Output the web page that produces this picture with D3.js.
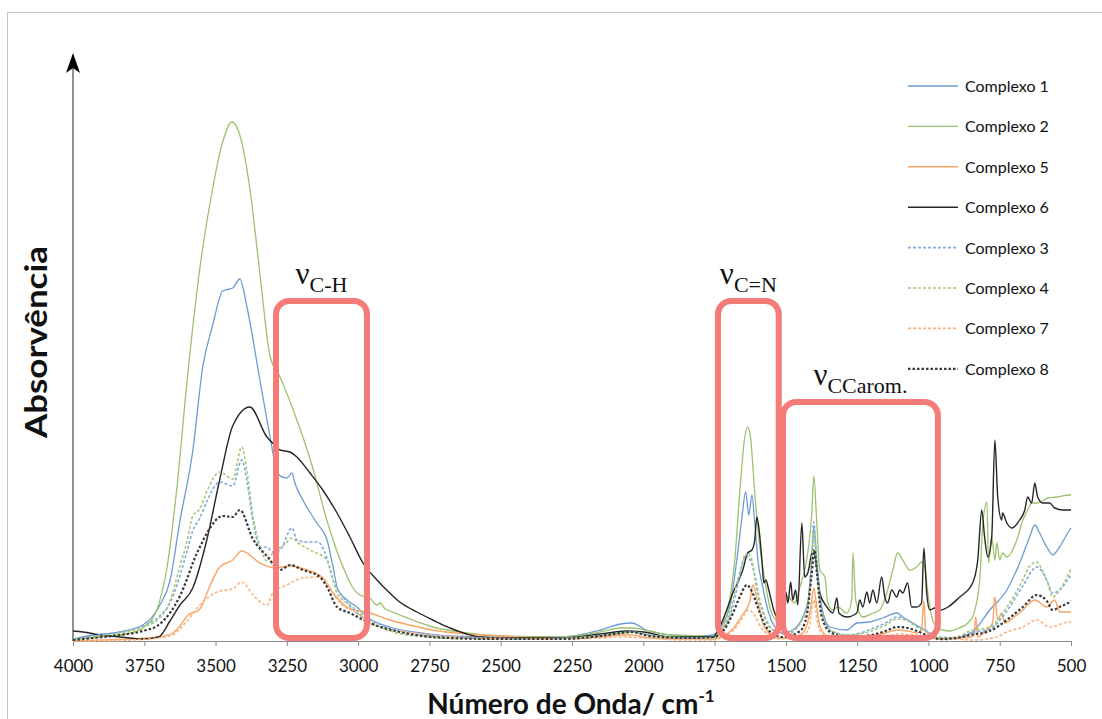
<!DOCTYPE html>
<html>
<head>
<meta charset="utf-8">
<script src="https://cdn.jsdelivr.net/npm/d3@7"></script>
<style>
  html, body { margin: 0; padding: 0; background: #fff; }
  svg { display: block; }
</style>
</head>
<body>
<svg id="chart" width="1102" height="719"></svg>
<script>
// FTIR spectra: [wavenumber (cm-1), absorbance]
const complexo1 = [[4000,.002],[3930,.006],[3835,.009],[3755,.016],[3695,.036],[3660,.060],[3625,.120],[3580,.190],[3545,.274],[3510,.316],[3475,.350],[3440,.353],[3415,.362],[3390,.334],[3344,.260],[3309,.204],[3299,.188],[3285,.168],[3250,.163],[3232,.168],[3222,.158],[3194,.141],[3145,.118],[3109,.101],[3088,.074],[3071,.051],[3039,.041],[3004,.034],[2969,.024],[2889,.014],[2780,.008],[2680,.005],[2500,.004],[2290,.004],[2150,.011],[2080,.017],[2040,.018],[1990,.011],[1900,.006],[1800,.005],[1756,.006],[1721,.018],[1697,.034],[1672,.081],[1655,.121],[1641,.149],[1630,.126],[1619,.146],[1609,.118],[1598,.081],[1581,.054],[1563,.031],[1539,.014],[1514,.008],[1476,.011],[1427,.034],[1409,.081],[1402,.114],[1392,.081],[1374,.034],[1346,.014],[1286,.011],[1251,.018],[1206,.019],[1160,.023],[1111,.028],[1090,.024],[1055,.018],[1013,.011],[960,.002],[901,.003],[845,.009],[785,.031],[725,.051],[680,.078],[645,.104],[627,.116],[610,.108],[585,.094],[564,.086],[540,.094],[505,.111],[500,.113]];

const complexo2 = [[4000,.002],[3900,.004],[3800,.008],[3750,.014],[3705,.032],[3670,.074],[3635,.155],[3600,.260],[3555,.373],[3510,.453],[3475,.499],[3443,.519],[3415,.506],[3380,.453],[3344,.366],[3309,.285],[3274,.264],[3229,.232],[3159,.173],[3109,.120],[3053,.074],[3018,.053],[2994,.046],[2959,.043],[2934,.036],[2924,.038],[2905,.032],[2889,.030],[2854,.026],[2800,.020],[2738,.014],[2620,.008],[2500,.005],[2300,.004],[2150,.009],[2080,.013],[2037,.013],[1977,.010],[1900,.006],[1800,.005],[1756,.004],[1721,.014],[1697,.041],[1679,.081],[1662,.148],[1644,.204],[1634,.214],[1623,.201],[1609,.148],[1591,.094],[1574,.061],[1556,.034],[1532,.021],[1511,.028],[1493,.044],[1469,.038],[1451,.054],[1427,.081],[1409,.128],[1402,.165],[1392,.121],[1381,.071],[1363,.064],[1353,.038],[1335,.031],[1318,.034],[1286,.028],[1269,.041],[1265,.088],[1255,.041],[1230,.024],[1195,.028],[1171,.031],[1146,.048],[1125,.071],[1108,.088],[1090,.081],[1066,.071],[1041,.074],[1024,.079],[1013,.074],[1002,.048],[988,.024],[971,.014],[950,.011],[925,.010],[901,.012],[855,.020],[845,.024],[820,.061],[810,.114],[795,.139],[789,.078],[778,.104],[767,.081],[760,.098],[750,.081],[740,.088],[725,.084],[690,.101],[669,.121],[652,.131],[638,.138],[620,.138],[600,.140],[582,.143],[550,.144],[505,.146],[500,.146]];

const complexo5 = [[4000,.000],[3900,.001],[3800,.002],[3700,.004],[3650,.008],[3625,.015],[3600,.025],[3555,.032],[3520,.055],[3485,.074],[3440,.081],[3408,.090],[3344,.078],[3290,.073],[3239,.075],[3180,.071],[3127,.064],[3088,.048],[3039,.034],[2959,.028],[2889,.021],[2820,.016],[2740,.011],[2620,.007],[2500,.005],[2300,.003],[2150,.004],[2080,.006],[2040,.006],[1980,.003],[1850,.002],[1756,.002],[1720,.005],[1686,.012],[1655,.025],[1626,.040],[1616,.056],[1598,.038],[1581,.018],[1560,.008],[1530,.003],[1500,.003],[1450,.006],[1427,.015],[1412,.035],[1402,.053],[1392,.035],[1380,.014],[1350,.004],[1300,.002],[1250,.003],[1200,.005],[1150,.008],[1110,.011],[1073,.010],[1040,.008],[1024,.012],[1016,.040],[1010,.012],[990,.004],[960,.002],[901,.003],[850,.004],[840,.006],[834,.024],[827,.004],[800,.010],[775,.018],[767,.044],[757,.021],[743,.028],[732,.018],[700,.024],[669,.031],[627,.041],[585,.034],[557,.041],[540,.029],[505,.029],[500,.029]];

const complexo6 = [[4000,.010],[3965,.009],[3905,.006],[3835,.004],[3755,.002],[3700,.004],[3660,.020],[3625,.036],[3580,.053],[3530,.102],[3485,.162],[3440,.215],[3380,.234],[3320,.204],[3285,.194],[3274,.191],[3239,.189],[3215,.184],[3169,.168],[3124,.151],[3074,.128],[3029,.104],[2983,.078],[2934,.061],[2889,.048],[2854,.039],[2794,.029],[2738,.021],[2678,.013],[2619,.007],[2573,.004],[2500,.003],[2300,.003],[2150,.007],[2060,.010],[2000,.009],[1900,.004],[1800,.004],[1756,.004],[1721,.021],[1686,.048],[1651,.071],[1634,.088],[1619,.091],[1609,.101],[1602,.124],[1595,.114],[1584,.081],[1577,.058],[1570,.061],[1560,.051],[1539,.028],[1521,.021],[1507,.034],[1500,.049],[1493,.038],[1483,.059],[1476,.041],[1466,.051],[1458,.036],[1444,.118],[1434,.064],[1423,.068],[1409,.088],[1402,.091],[1392,.074],[1381,.048],[1356,.034],[1335,.028],[1321,.043],[1314,.028],[1286,.024],[1251,.028],[1241,.041],[1230,.034],[1216,.049],[1206,.038],[1195,.051],[1181,.038],[1164,.064],[1153,.044],[1143,.038],[1129,.051],[1111,.044],[1101,.051],[1090,.048],[1073,.058],[1059,.034],[1041,.034],[1024,.038],[1016,.093],[1006,.048],[995,.031],[978,.033],[960,.031],[890,.044],[845,.058],[827,.081],[813,.131],[803,.104],[792,.084],[778,.104],[767,.201],[757,.144],[743,.121],[740,.128],[725,.118],[708,.113],[680,.121],[662,.131],[652,.144],[638,.138],[627,.158],[617,.144],[599,.138],[575,.138],[557,.133],[529,.131],[500,.131]];

const complexo3 = [[4000,.001],[3930,.005],[3835,.009],[3755,.015],[3700,.024],[3660,.038],[3625,.065],[3600,.090],[3580,.110],[3555,.123],[3530,.140],[3485,.159],[3440,.155],[3408,.181],[3390,.160],[3369,.120],[3344,.094],[3320,.094],[3299,.089],[3274,.091],[3232,.113],[3215,.101],[3180,.099],[3141,.099],[3116,.088],[3088,.061],[3053,.044],[3004,.028],[2934,.018],[2860,.010],[2750,.005],[2600,.003],[2400,.002],[2200,.004],[2080,.008],[2040,.009],[1980,.006],[1850,.003],[1756,.003],[1697,.025],[1669,.055],[1641,.086],[1626,.082],[1609,.066],[1591,.040],[1570,.022],[1539,.010],[1497,.007],[1427,.030],[1409,.085],[1402,.119],[1392,.080],[1374,.030],[1340,.010],[1280,.006],[1200,.012],[1150,.018],[1110,.024],[1073,.021],[1040,.015],[1000,.009],[960,.004],[901,.003],[855,.008],[785,.012],[725,.030],[669,.055],[620,.074],[585,.061],[564,.048],[540,.051],[505,.064],[500,.066]];

const complexo4 = [[4000,.001],[3930,.004],[3835,.008],[3755,.014],[3700,.022],[3660,.040],[3625,.075],[3600,.100],[3580,.125],[3555,.132],[3530,.150],[3485,.169],[3440,.162],[3408,.194],[3390,.170],[3369,.125],[3344,.095],[3320,.080],[3299,.088],[3260,.096],[3232,.103],[3210,.098],[3169,.091],[3109,.081],[3074,.048],[3018,.034],[2960,.020],[2889,.010],[2800,.005],[2600,.002],[2400,.002],[2200,.004],[2080,.008],[2040,.009],[1980,.006],[1850,.003],[1756,.003],[1697,.028],[1669,.061],[1644,.084],[1634,.088],[1619,.081],[1602,.051],[1581,.028],[1546,.011],[1497,.008],[1427,.031],[1409,.081],[1402,.110],[1392,.075],[1374,.030],[1340,.010],[1280,.006],[1200,.010],[1150,.016],[1110,.022],[1073,.020],[1040,.014],[1000,.008],[960,.003],[901,.004],[855,.010],[785,.014],[725,.034],[669,.061],[645,.075],[620,.079],[599,.070],[585,.061],[564,.044],[540,.051],[505,.069],[500,.072]];

const complexo7 = [[4000,.000],[3900,.000],[3800,.001],[3700,.003],[3650,.006],[3625,.012],[3600,.020],[3555,.036],[3485,.050],[3440,.052],[3408,.059],[3369,.046],[3320,.036],[3299,.048],[3250,.056],[3194,.063],[3127,.064],[3099,.053],[3064,.038],[3004,.028],[2959,.018],[2889,.012],[2800,.008],[2700,.005],[2550,.003],[2300,.002],[2150,.003],[2080,.004],[2000,.003],[1850,.001],[1756,.001],[1720,.004],[1686,.010],[1655,.022],[1630,.031],[1610,.026],[1590,.015],[1560,.006],[1520,.002],[1450,.004],[1420,.012],[1402,.041],[1390,.020],[1370,.006],[1300,.002],[1200,.003],[1150,.005],[1100,.007],[1050,.006],[1000,.004],[950,.001],[900,.002],[845,.001],[760,.004],[725,.009],[669,.014],[620,.021],[575,.014],[505,.019],[500,.019]];

const complexo8 = [[4000,.001],[3930,.003],[3835,.006],[3755,.010],[3700,.016],[3660,.028],[3625,.045],[3600,.062],[3580,.078],[3555,.094],[3530,.108],[3475,.125],[3440,.124],[3415,.131],[3369,.102],[3320,.085],[3274,.071],[3239,.076],[3194,.071],[3134,.064],[3109,.054],[3074,.034],[3029,.028],[2959,.018],[2854,.009],[2680,.003],[2500,.002],[2300,.002],[2150,.005],[2080,.008],[2040,.009],[1980,.005],[1850,.003],[1756,.004],[1720,.010],[1690,.025],[1660,.045],[1637,.056],[1620,.050],[1600,.035],[1580,.020],[1550,.008],[1510,.004],[1450,.010],[1427,.025],[1410,.065],[1400,.090],[1390,.065],[1375,.025],[1340,.008],[1280,.004],[1200,.006],[1150,.010],[1110,.014],[1073,.013],[1040,.010],[1000,.005],[960,.002],[901,.003],[855,.006],[785,.010],[725,.021],[669,.034],[620,.046],[585,.040],[564,.031],[540,.034],[505,.039],[500,.040]];

// legend order and styling
const seriesNames = ["Complexo 1","Complexo 2","Complexo 5","Complexo 6","Complexo 3","Complexo 4","Complexo 7","Complexo 8"];
const seriesData  = [complexo1, complexo2, complexo5, complexo6, complexo3, complexo4, complexo7, complexo8];
const seriesColor = ["#6c9bd6","#9dc26d","#f9a466","#262626","#7fabe0","#a6c878","#f9b27f","#3a3a3a"];
const seriesDash  = [null, null, null, null, "3,2", "3,2", "3,2", "2.5,2"];
const seriesWidth = [1.3, 1.3, 1.4, 1.4, 1.6, 1.6, 1.6, 2.2];

const xTicks = [4000,3750,3500,3250,3000,2750,2500,2250,2000,1750,1500,1250,1000,750,500];

// highlighted bands: wavenumber range, top absorbance, label parts
const bandFrom  = [3288, 1738, 1510];
const bandTo    = [2969, 1525, 967];
const bandTop   = [0.340, 0.340, 0.239];
const bandSub   = ["C-H", "C=N", "CCarom."];

const W = 1102, H = 719;
const svg = d3.select("#chart");
svg.append("rect").attr("width", W).attr("height", H).attr("fill", "#fff");
svg.append("rect").attr("x", 7.5).attr("y", 12.5).attr("width", 1200).attr("height", 800)
  .attr("fill", "none").attr("stroke", "#c4c4c4").attr("stroke-width", 1);

const x = d3.scaleLinear().domain([4000, 500]).range([73, 1071]);
const y = d3.scaleLinear().domain([0, 0.59]).range([641, 51]);

// x axis
const xAxis = svg.append("g").attr("transform", `translate(0,${y(0)})`)
  .call(d3.axisBottom(x).tickValues(xTicks).tickFormat(d3.format("d"))
    .tickSize(5).tickSizeOuter(0).tickPadding(14));
xAxis.select(".domain").attr("stroke", "#8c8c8c");
xAxis.selectAll(".tick line").attr("stroke", "#8c8c8c");
xAxis.selectAll(".tick text").attr("font-family", "Lato, 'Open Sans', sans-serif")
  .attr("font-size", 17).attr("fill", "#111");

// y axis with arrow
svg.append("line").attr("x1", x(4000)).attr("x2", x(4000)).attr("y1", y(0)).attr("y2", 66)
  .attr("stroke", "#555").attr("stroke-width", 1.3);
const ax = x(4000);
svg.append("path").attr("d", `M${ax},53 L${ax-7},73 L${ax},68 L${ax+7},73 Z`).attr("fill", "#000");

// spectra
const line = d3.line().x(d => x(d[0])).y(d => y(d[1])).curve(d3.curveMonotoneX);
const plot = svg.append("g");
seriesData.forEach((data, i) => {
  plot.append("path").datum(data).attr("d", line)
    .attr("fill", "none").attr("stroke", seriesColor[i]).attr("stroke-width", seriesWidth[i])
    .attr("stroke-dasharray", seriesDash[i]).attr("stroke-linejoin", "round");
});

// band boxes
const bands = svg.append("g");
bandFrom.forEach((f, i) => {
  const x0 = x(f), x1 = x(bandTo[i]), y0 = y(bandTop[i]), y1 = y(0) - 3;
  bands.append("rect").attr("x", x0).attr("y", y0).attr("width", x1 - x0).attr("height", y1 - y0)
    .attr("rx", 13).attr("ry", 13).attr("fill", "none")
    .attr("stroke", "#f47b78").attr("stroke-width", 6);
  const t = bands.append("text").attr("x", (x0 + x1) / 2).attr("y", y0 - 17)
    .attr("text-anchor", "middle").attr("font-family", "'Liberation Serif', 'Times New Roman', serif")
    .attr("fill", "#111");
  t.append("tspan").attr("font-size", 31).text("ν");
  t.append("tspan").attr("font-size", 22).attr("dy", 8).text(bandSub[i]);
});

// legend
const lg = svg.append("g").attr("transform", "translate(908,86)");
seriesNames.forEach((name, i) => {
  const row = lg.append("g").attr("transform", `translate(0,${i * 40.4})`);
  row.append("line").attr("x1", 0).attr("x2", 50).attr("y1", 0).attr("y2", 0)
    .attr("stroke", seriesColor[i]).attr("stroke-width", seriesWidth[i])
    .attr("stroke-dasharray", seriesDash[i]);
  row.append("text").attr("x", 57).attr("y", 6).text(name)
    .attr("font-family", "Lato, 'Open Sans', sans-serif").attr("font-size", 16).attr("fill", "#111");
});

// axis titles
const xt = svg.append("text").attr("x", 571).attr("y", 714).attr("text-anchor", "middle")
  .attr("font-family", "Lato, 'Open Sans', sans-serif").attr("font-weight", "bold")
  .attr("font-size", 28).attr("fill", "#111");
xt.append("tspan").text("Número de Onda/ cm");
xt.append("tspan").attr("font-size", 17).attr("dy", -12).text("-1");

svg.append("text").attr("transform", "translate(47,342) rotate(-90)").attr("text-anchor", "middle")
  .attr("font-family", "Lato, 'Open Sans', sans-serif").attr("font-weight", "bold")
  .attr("font-size", 30).attr("textLength", 192).attr("lengthAdjust", "spacingAndGlyphs")
  .attr("fill", "#111").text("Absorvência");
</script>
</body>
</html>
